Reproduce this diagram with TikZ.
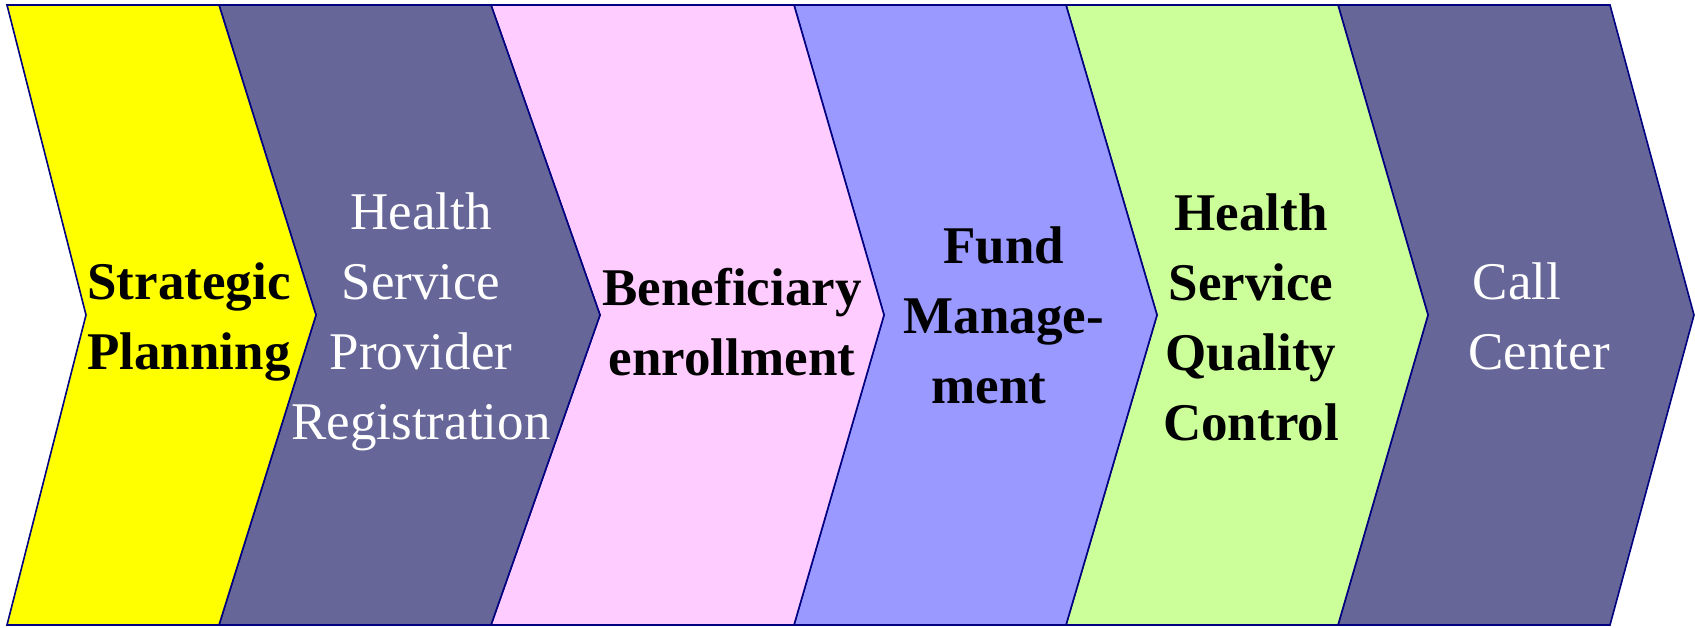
\documentclass[tikz,border=0pt]{standalone}
\usepackage{fontspec}
\setmainfont{Liberation Serif}
\definecolor{cyellow}{HTML}{FFFF00}
\definecolor{cslate}{HTML}{666699}
\definecolor{cpink}{HTML}{FFCCFF}
\definecolor{clav}{HTML}{9999FF}
\definecolor{cgreen}{HTML}{CCFF99}
\definecolor{cnavy}{HTML}{000080}
\tikzset{
  chev/.style={draw=cnavy, line width=1.6pt, line join=miter},
  lbl/.style={align=center, font=\fontsize{53}{70}\selectfont, inner sep=0pt},
  lblb/.style={lbl, font=\fontsize{53}{70}\selectfont\bfseries, text=black},
  lblw/.style={lbl, text=white}
}
\begin{document}
\begin{tikzpicture}[x=1pt,y=-1pt]
\useasboundingbox (0,0) rectangle (1695,627);
% chevrons
\fill[cslate,chev] (1338,5) -- (1610,5) -- (1694,315) -- (1610,625) -- (1338,625) -- (1428,315) -- cycle;
\fill[cgreen,chev] (1066,5) -- (1338,5) -- (1428,315) -- (1338,625) -- (1066,625) -- (1157,315) -- cycle;
\fill[clav,chev] (794,5) -- (1066,5) -- (1157,315) -- (1066,625) -- (794,625) -- (884,315) -- cycle;
\fill[cpink,chev] (491,5) -- (794,5) -- (884,315) -- (794,625) -- (491,625) -- (600,315) -- cycle;
\fill[cslate,chev] (219,5) -- (491,5) -- (600,315) -- (491,625) -- (219,625) -- (316,315) -- cycle;
\fill[cyellow,chev] (7,5) -- (219,5) -- (316,315) -- (219,625) -- (7,625) -- (86,315) -- cycle;
% labels
\node[lblb] (t1) at (189,322) {Strategic\\Planning};
\node[lblw] (t2) at (421,322) {Health\\Service\\Provider\\Registration};
\node[lblb] (t3) at (732,322) {Beneficiary\\enrollment};
\node[lblb] (t4) at (1004,315) {Fund\\Manage-\\ment\kern30pt};
\node[lblb] (t5) at (1251,317) {Health\\Service\\Quality\\Control};
\node[lblw] (t6) at (1539,316) {Call\kern44pt\\Center};
\end{tikzpicture}
\end{document}
